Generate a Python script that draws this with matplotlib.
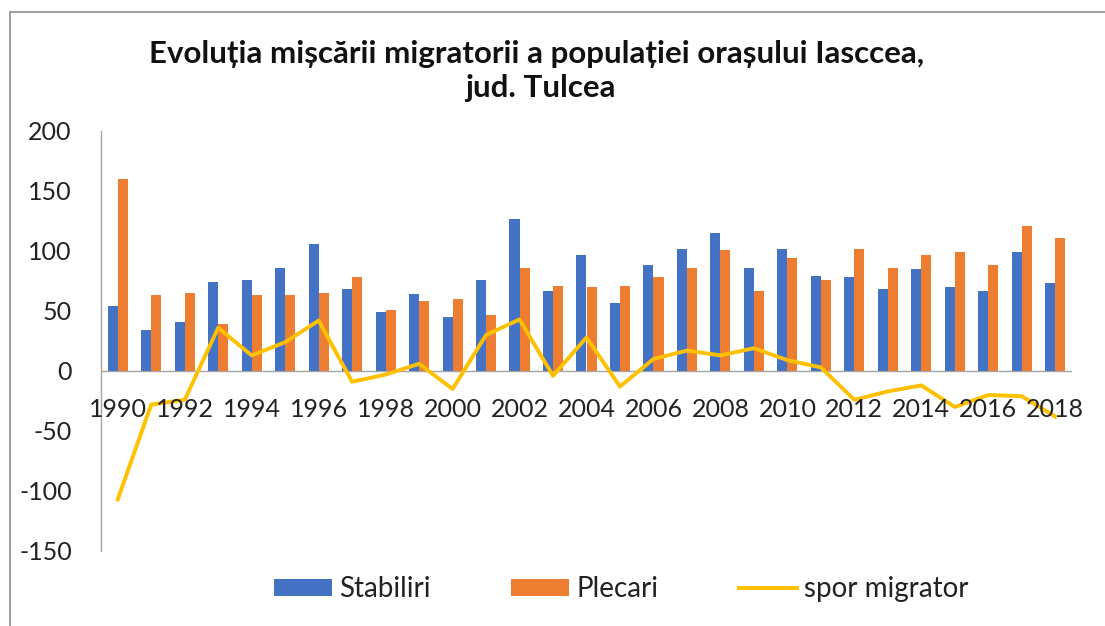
import matplotlib
matplotlib.use('Agg')
import matplotlib.pyplot as plt
import numpy as np
from matplotlib.patches import Rectangle

plt.rcParams['font.family'] = ['Lato', 'DejaVu Sans']
plt.rcParams['axes.unicode_minus'] = False

# date
ani = list(range(1990, 2019))
stabiliri = [54, 34, 41, 74, 76, 86, 106, 68, 49, 64,
             45, 76, 127, 67, 97, 57, 88, 102, 115, 86,
             102, 79, 78, 68, 85, 70, 67, 99, 73]
plecari = [160, 63, 65, 39, 63, 63, 65, 78, 51, 58,
           60, 47, 86, 71, 70, 71, 78, 86, 101, 67,
           94, 76, 102, 86, 97, 99, 88, 121, 111]
spor = [-107, -28, -24, 36, 13, 24, 42, -9, -3, 6,
        -15, 30, 43, -4, 28, -13, 10, 17, 13, 19,
        9, 3, -24, -17, -12, -30, -20, -21, -38]
y_ticks = [-150, -100, -50, 0, 50, 100, 150, 200]

c_blue = '#4472C4'
c_orange = '#ED7D31'
c_yellow = '#FFC000'

fig = plt.figure(figsize=(11.05, 6.26), dpi=100)
ax = fig.add_axes([101/1105, 1 - 551/626, (1072 - 101)/1105, (551 - 131)/626])

x = np.arange(len(ani))
w = 0.3
b1 = ax.bar(x - w/2, stabiliri, width=w, color=c_blue, label='Stabiliri', zorder=2)
b2 = ax.bar(x + w/2, plecari, width=w, color=c_orange, label='Plecari', zorder=2)
l1, = ax.plot(x, spor, color=c_yellow, linewidth=2.8, label='spor migrator', zorder=3)

ax.axhline(0, color='#A6A6A6', linewidth=1.0, zorder=1)

ax.set_xlim(-0.5, len(ani) - 0.5)
ax.set_ylim(-150, 200)
ax.set_yticks(y_ticks)
ax.set_yticklabels([str(v) for v in y_ticks])
ax.tick_params(axis='y', length=0, pad=21, labelsize=18, labelcolor='#222222')
ax.set_xticks([])

for s in ['top', 'right', 'bottom']:
    ax.spines[s].set_visible(False)
ax.spines['left'].set_color('#A6A6A6')
ax.spines['left'].set_linewidth(1.0)

# etichete ani, la linia de zero
for i, an in enumerate(ani):
    if an % 2 == 0:
        ax.annotate(str(an), xy=(i, 0), xytext=(0, -33), textcoords='offset points',
                    ha='center', va='baseline', fontsize=18, color='#222222')

fig.text(537/1105, 1 - 63/626, 'Evoluția mișcării migratorii a populației orașului Iasccea,',
         ha='center', va='baseline', fontsize=22.5, fontweight='bold', color='#111111')
fig.text(540/1105, 1 - 97/626, 'jud. Tulcea',
         ha='center', va='baseline', fontsize=22.5, fontweight='bold', color='#111111')

leg = fig.legend([b1, b2, l1], ['Stabiliri', 'Plecari', 'spor migrator'],
                 loc='center', bbox_to_anchor=(0.562, 1 - 589/626), ncol=3, frameon=False,
                 fontsize=20, handlelength=2.1, handleheight=0.55, handletextpad=0.25,
                 columnspacing=2.9)
for t in leg.get_texts():
    t.set_color('#222222')

fig.add_artist(Rectangle((10/1105, -0.05), 1.2, 1.05 - 12/626, transform=fig.transFigure,
                         fill=False, edgecolor='#8C8C8C', linewidth=1.2))

fig.savefig('out.png', dpi=100)
